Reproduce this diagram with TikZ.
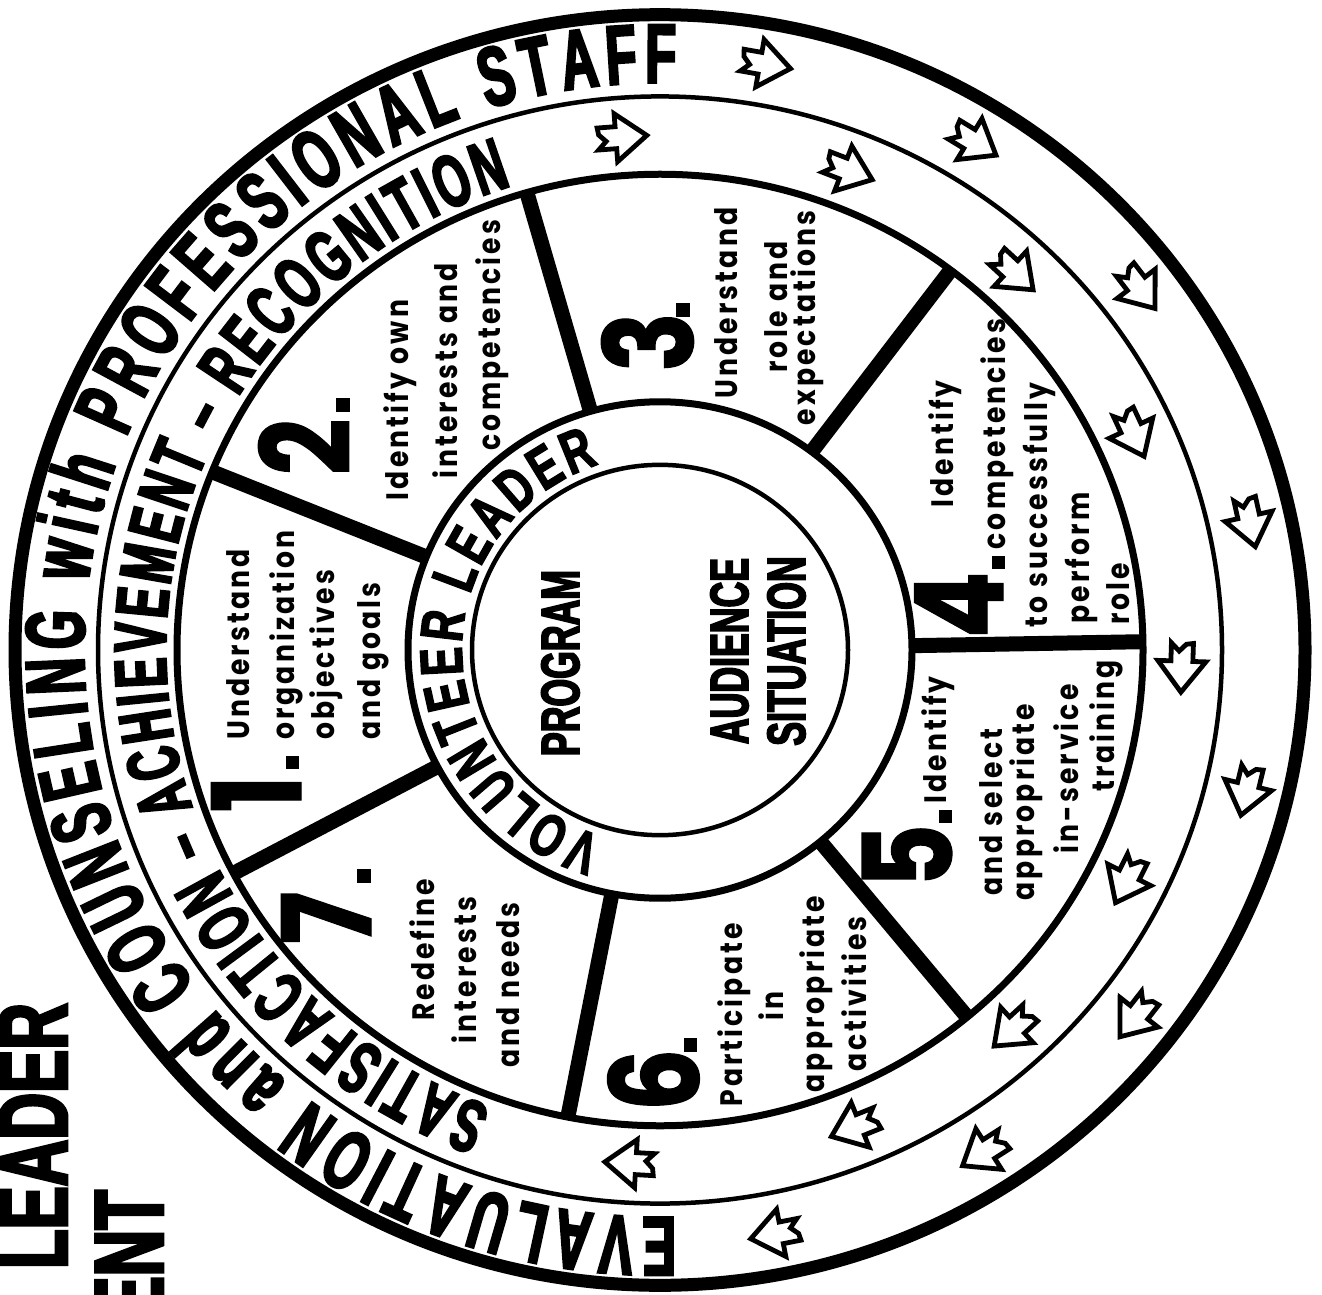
\documentclass[tikz,border=0pt]{standalone}
\usepackage{fontspec}
\newfontfamily\headA{Liberation Sans}[FakeStretch=0.60, FakeBold=3]
\newfontfamily\headB{Liberation Sans}[FakeStretch=0.66, FakeBold=3]
\newfontfamily\headC{Liberation Sans}[FakeStretch=0.70, FakeBold=2.5]
\newfontfamily\segfont{Poppins}[FakeStretch=0.86, LetterSpace=10]
\newfontfamily\numfont{Poppins}[FakeStretch=0.8, FakeBold=1]
\usetikzlibrary{decorations.text}
\tikzset{
  blockarrow/.pic={\draw[line width=4.8, fill=white, line join=miter]
     (-23,11) -- (-5,11) -- (-5,24) -- (26,0) -- (-5,-24) -- (-5,-11) -- (-23,-11) -- (-15,-3) -- (-22,4) -- cycle;},
  segtxt/.style={rotate=90, inner sep=0pt, font=\segfont\bfseries\fontsize{31}{31}\selectfont, anchor=base},
  numtxt/.style={rotate=90, inner sep=0pt, font=\numfont\bfseries\fontsize{123}{123}\selectfont, anchor=base},
  headtxt/.style={rotate=90, inner sep=0pt, anchor=base},
}
\begin{document}
\begin{tikzpicture}[x=1pt,y=1pt]
\useasboundingbox (0,0) rectangle (1322,-1295);
\clip (0,0) rectangle (1322,-1295);
\fill[white] (0,0) rectangle (1322,-1295);

\begin{scope}[shift={(660,-650)}, yscale=0.985]
  % rings
  \draw[line width=13] (0,0) circle[radius=645];
  \draw[line width=4.5] (0,0) circle[radius=562];
  \draw[line width=7] (0,0) circle[radius=483];
  \draw[line width=7] (0,0) circle[radius=252];
  \draw[line width=4.5] (0,0) circle[radius=188];
  % sector dividers
  \foreach \a in {1,53,106,158,208,259,309.5}
    \draw[line width=15] (\a:252) -- (\a:483);
  % arrows, outer band
  \foreach \a in {80,58.7,37.5,12.5,-13.6,-38,-57.5,-78.9}
    \pic[rotate=\a-90] at (\a:604) {blockarrow};
  % arrows, second band
  \foreach \a in {94.3,68.9,47.3,25,-1.8,-26.5,-47.4,-68,-93.2}
    \pic[rotate=\a-90] at (\a:522) {blockarrow};
  % curved texts
  \path[decorate, decoration={text along path, text align={fit to path},
     text={|\headA\bfseries\fontsize{84}{84}\selectfont|EVALUATION and COUNSELING with PROFESSIONAL STAFF}}]
     (271.6:576) arc[start angle=271.6, end angle=88.4, radius=576];
  \path[decorate, decoration={text along path, text align={fit to path},
     text={|\headA\bfseries\fontsize{74}{74}\selectfont|SATISFACTION – ACHIEVEMENT – RECOGNITION}}]
     (250:494) arc[start angle=250, end angle=107.5, radius=494];
  \path[decorate, decoration={text along path, text align={fit to path},
     text={|\headC\bfseries\fontsize{60}{60}\selectfont|VOLUNTEER LEADER}}]
     (253:198) arc[start angle=253, end angle=108, radius=198];
\end{scope}

% centre
\node[headtxt, font=\headB\bfseries\fontsize{54}{54}\selectfont] (prog) at (579,-663) {PROGRAM};
\node[headtxt, font=\headB\bfseries\fontsize{54}{54}\selectfont] (aud) at (748,-651) {AUDIENCE};
\node[headtxt, font=\headB\bfseries\fontsize{54}{54}\selectfont] (sit) at (805,-651) {SITUATION};

% segment 1
\node[numtxt] (n1) at (301,-794) {1};
\fill (286,-756) rectangle (299,-769);
\node[segtxt, anchor=base west] (s1a) at (249,-740) {Understand};
\node[segtxt, anchor=base west] (s1b) at (294,-740) {organization};
\node[segtxt, anchor=base west] (s1c) at (334,-740) {objectives};
\node[segtxt, anchor=base west] (s1d) at (380,-740) {and goals};

% segment 2
\node[numtxt] (n2) at (350,-447) {2};
\fill (336,-398) rectangle (350,-412);
\node[segtxt] (s2a) at (408,-400) {Identify own};
\node[segtxt] (s2b) at (457,-371) {interests and};
\node[segtxt] (s2c) at (500,-335) {competencies};

% segment 3
\node[numtxt] (n3) at (693,-342) {3};
\fill (676,-303) rectangle (690,-317);
\node[segtxt] (s3a) at (737,-303) {Understand};
\node[segtxt] (s3b) at (787,-307) {role and};
\node[segtxt] (s3c) at (815,-318) {expectations};

% segment 4
\node[numtxt] (n4) at (1003,-605) {4};
\fill (992,-556) rectangle (1005,-569);
\node[segtxt] (s4a) at (953,-444) {Identify};
\node[segtxt] (s4b) at (1005,-434) {competencies};
\node[segtxt] (s4c) at (1047,-505) {to successfully};
\node[segtxt] (s4d) at (1089,-558) {perform};
\node[segtxt] (s4e) at (1129,-594) {role};

% segment 5
\node[numtxt] (n5) at (952,-856) {5};
\fill (939,-810) rectangle (952,-823);
\node[segtxt] (s5a) at (946,-740) {Identify};
\node[segtxt] (s5b) at (1002,-812) {and select};
\node[segtxt] (s5c) at (1034,-802) {appropriate};
\node[segtxt] (s5d) at (1078,-769) {in-service};
\node[segtxt] (s5e) at (1114,-726) {training};

% segment 6
\node[numtxt] (n6) at (699,-1080) {6};
\fill (684,-1038) rectangle (697,-1052);
\node[segtxt] (s6a) at (742,-1015) {Participate};
\node[segtxt] (s6b) at (783,-1006) {in};
\node[segtxt] (s6c) at (824,-994) {appropriate};
\node[segtxt] (s6d) at (866,-994) {activities};

% segment 7
\node[numtxt] (n7) at (371,-918) {7};
\fill (357,-869) rectangle (371,-883);
\node[segtxt] (s7a) at (434,-950) {Redefine};
\node[segtxt] (s7b) at (476,-970) {interests};
\node[segtxt] (s7c) at (519,-985) {and needs};

% title fragments
\node[headtxt, font=\headB\bfseries\fontsize{98}{98}\selectfont] (t1) at (67,-1136) {LEADER};
\node[headtxt, anchor=base east, font=\headB\bfseries\fontsize{98}{98}\selectfont] (t2) at (163,-1190) {ENT};
\end{tikzpicture}
\end{document}
